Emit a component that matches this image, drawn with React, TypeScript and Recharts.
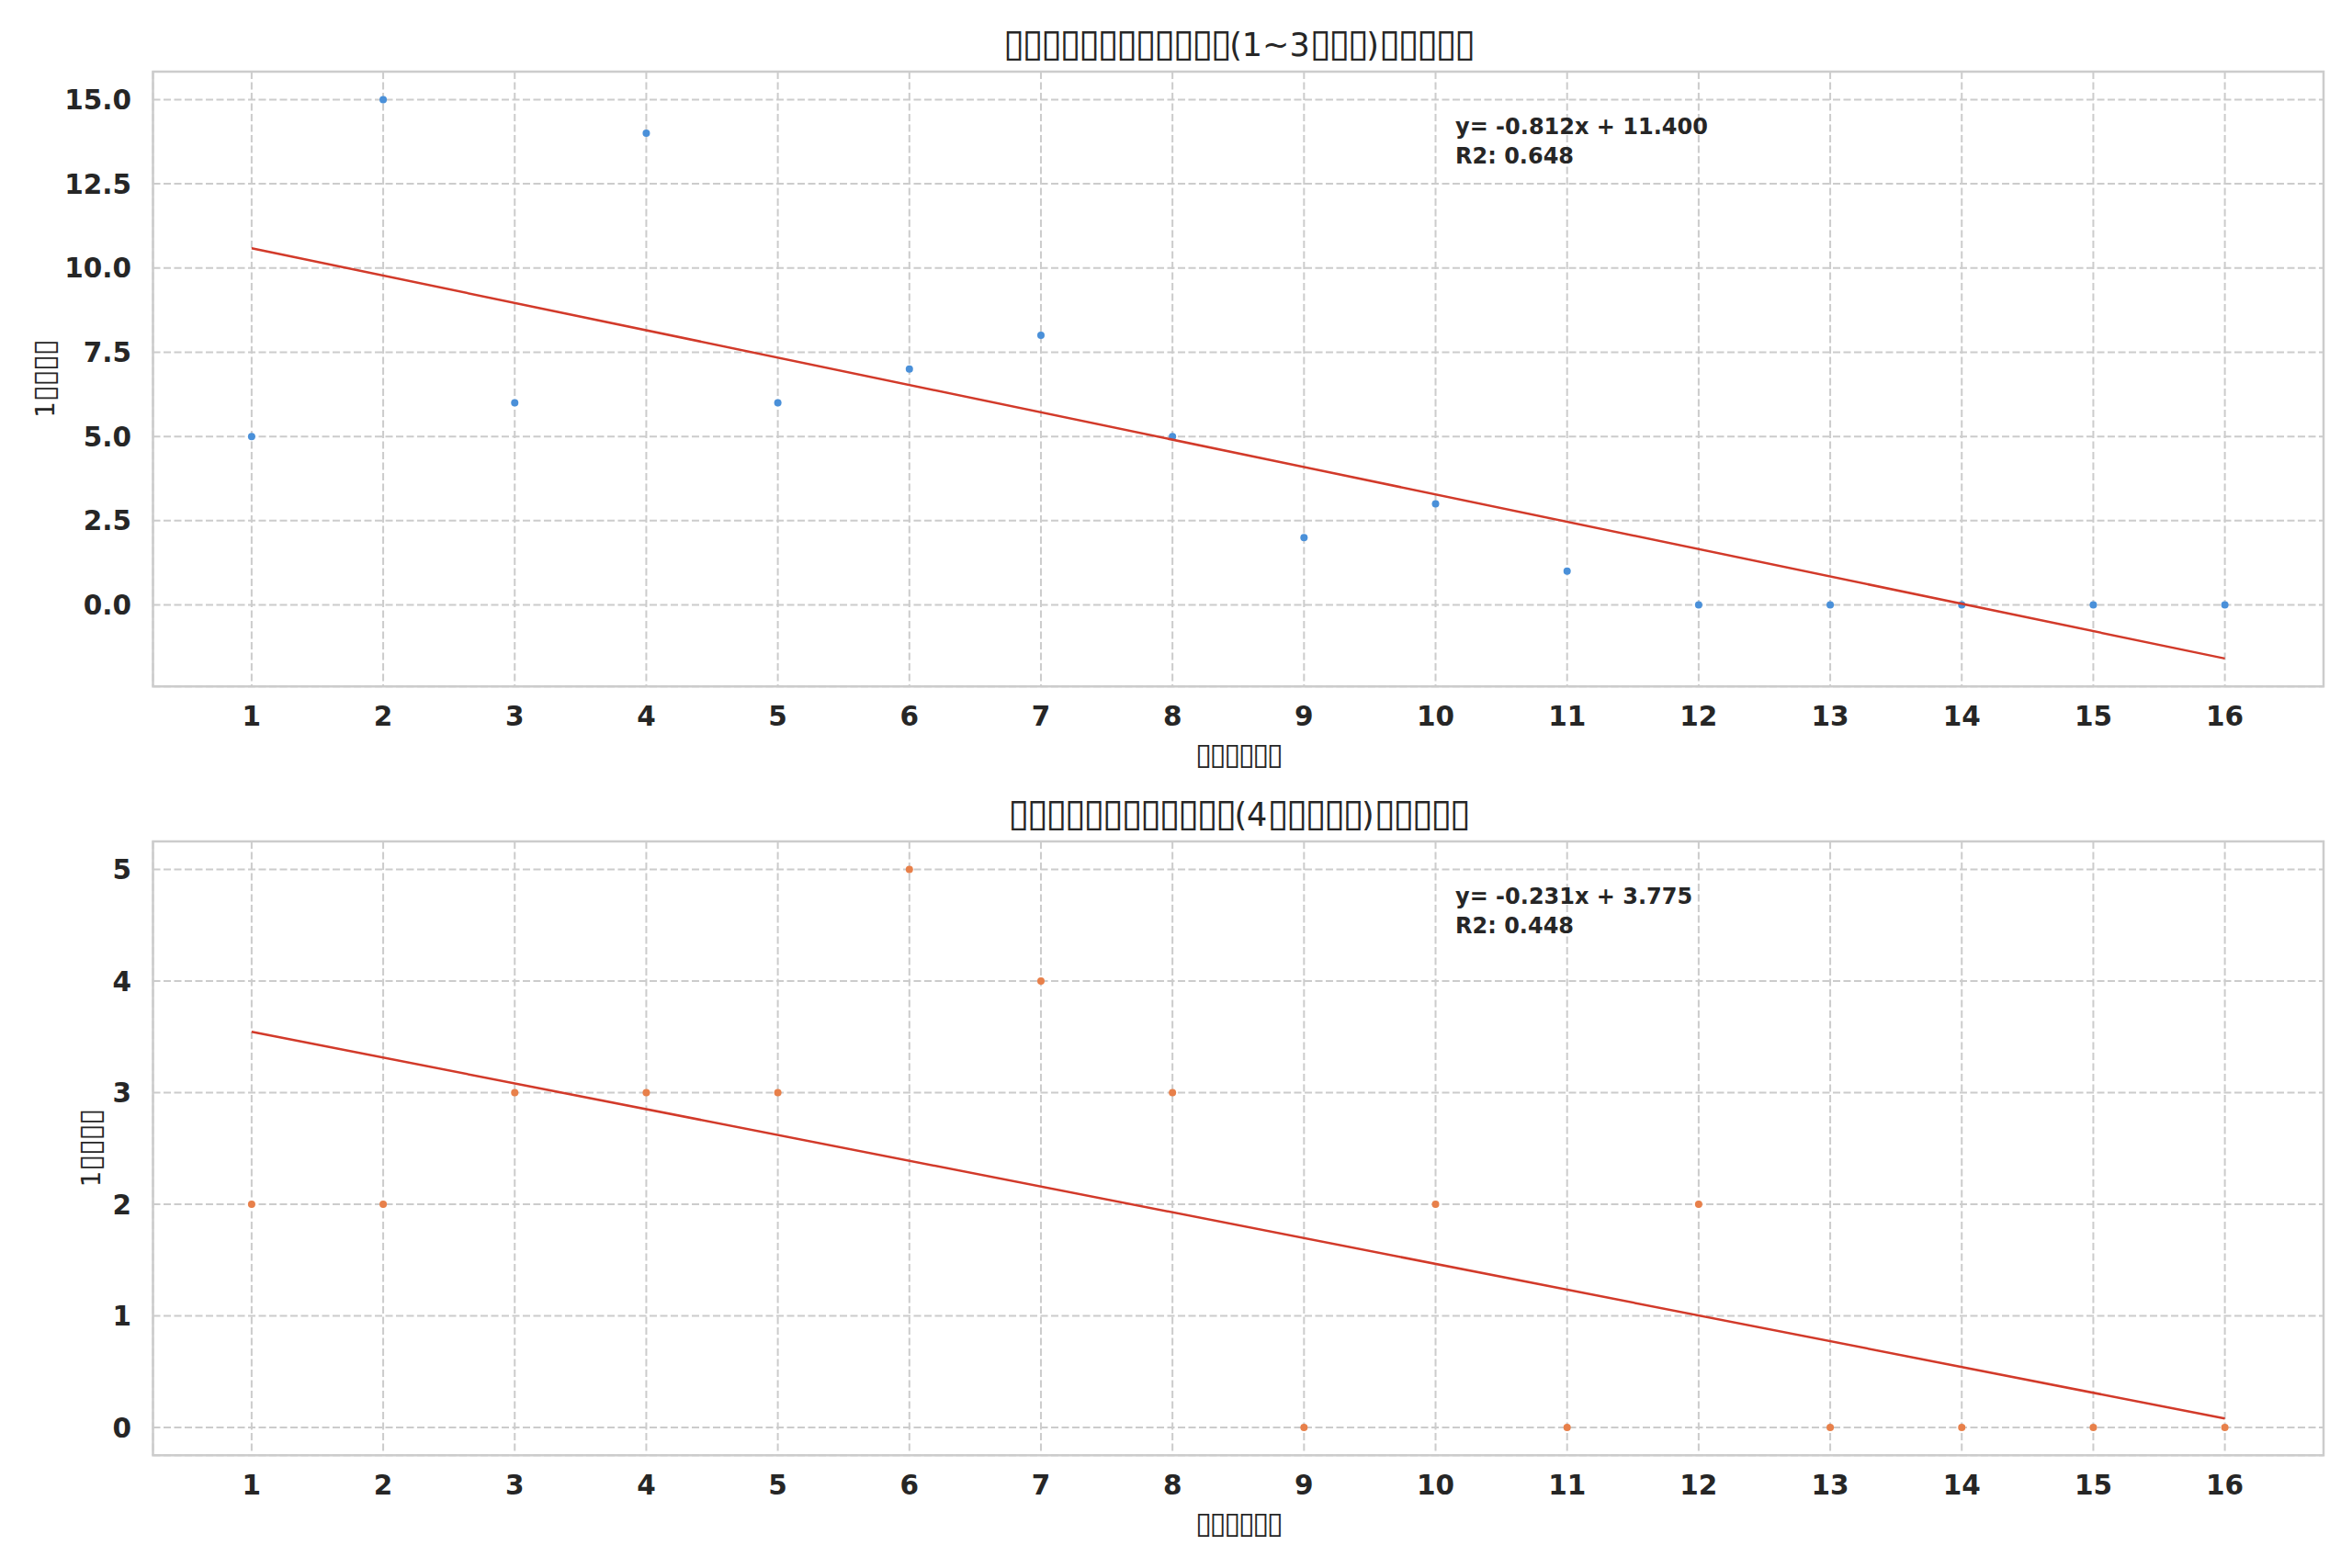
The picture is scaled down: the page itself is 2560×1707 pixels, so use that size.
import React from 'react';
import { ScatterChart, Scatter, XAxis, YAxis, CartesianGrid } from 'recharts';

// ---- data ----
const years = [1, 2, 3, 4, 5, 6, 7, 8, 9, 10, 11, 12, 13, 14, 15, 16];
const countsShort = [5, 15, 6, 14, 6, 7, 8, 5, 2, 3, 1, 0, 0, 0, 0, 0];
const countsLong = [2, 2, 3, 3, 3, 5, 4, 3, 0, 2, 0, 2, 0, 0, 0, 0];
const fitX = [1, 16];
const fitShortY = [10.588, -1.592];
const fitLongY = [3.544, 0.079];
const xTicks = [1, 2, 3, 4, 5, 6, 7, 8, 9, 10, 11, 12, 13, 14, 15, 16];
const yTicksShort = [0, 2.5, 5, 7.5, 10, 12.5, 15];
const yTicksLong = [0, 1, 2, 3, 4, 5];
const titleShort = '▯▯▯▯▯▯▯▯▯▯▯▯(1~3▯▯▯)▯▯▯▯▯';
const titleLong = '▯▯▯▯▯▯▯▯▯▯▯▯(4▯▯▯▯▯)▯▯▯▯▯';
const xLabelText = '▯▯▯▯▯▯';
const yLabelText = '1▯▯▯▯';
const annShort = ['y= -0.812x + 11.400', 'R2: 0.648'];
const annLong = ['y= -0.231x + 3.775', 'R2: 0.448'];

const toPoints = (xs: number[], ys: number[]) => xs.map((x, i) => ({ x, y: ys[i] }));

const FONT = 'DejaVu Sans';
const TXT = '#262626';
const GRID = '#cccccc';
const LEFT = 166.5;
const RIGHT = 2529;
const W = 2560;

// splits a string into runs of box glyphs and other characters
const runs = (s: string) => {
  const out: { box: boolean; t: string }[] = [];
  for (const ch of s) {
    const box = ch === '▯';
    const last = out[out.length - 1];
    if (last && last.box === box) last.t += ch;
    else out.push({ box, t: ch });
  }
  return out;
};

const BoxText = ({ s, fs, ls }: { s: string; fs: number; ls: number }) => (
  <>
    {runs(s).map((r, i) =>
      r.box ? (
        <tspan key={i} fontSize={fs * 1.2} letterSpacing={ls}>
          {r.t}
        </tspan>
      ) : (
        <tspan key={i} fontSize={fs}>
          {r.t}
        </tspan>
      )
    )}
  </>
);

type PanelProps = {
  top: number;
  height: number;
  plotTop: number;
  plotBottom: number;
  points: { x: number; y: number }[];
  fit: { x: number; y: number }[];
  color: string;
  yDomain: [number, number];
  yTicks: number[];
  yFmt: (v: number) => string;
  title: string;
  yLabelX: number;
  ann: string[];
};

const Panel = (p: PanelProps) => {
  const xAxisH = 40;
  const yAxisW = 120;
  const margin = {
    top: p.plotTop,
    bottom: p.height - p.plotBottom - xAxisH,
    left: LEFT - yAxisW,
    right: W - RIGHT,
  };
  const XTick = (t: any) => (
    <text x={t.x} y={t.y + 43} textAnchor="middle" fontFamily={FONT} fontWeight="bold" fontSize={29.5} fill={TXT}>
      {t.payload.value}
    </text>
  );
  const YTick = (t: any) => (
    <text x={t.x - 23.5} y={t.y} dy="0.36em" textAnchor="end" fontFamily={FONT} fontWeight="bold" fontSize={29.5} fill={TXT}>
      {p.yFmt(t.payload.value)}
    </text>
  );
  const midX = (LEFT + RIGHT) / 2;
  const midY = (p.plotTop + p.plotBottom) / 2;
  const annX = LEFT + 0.6 * (RIGHT - LEFT);
  return (
    <div style={{ position: 'absolute', left: 0, top: p.top, width: W, height: p.height }}>
      <ScatterChart width={W} height={p.height} margin={margin}>
        <CartesianGrid stroke={GRID} strokeWidth={2} strokeDasharray="8 3.5" />
        <XAxis
          type="number"
          dataKey="x"
          domain={[0.25, 16.75]}
          ticks={xTicks}
          height={xAxisH}
          axisLine={false}
          tickLine={false}
          tickSize={0}
          tickMargin={0}
          tick={XTick}
          allowDataOverflow
        />
        <YAxis
          type="number"
          dataKey="y"
          domain={p.yDomain}
          ticks={p.yTicks}
          width={yAxisW}
          axisLine={false}
          tickLine={false}
          tickSize={0}
          tickMargin={0}
          tick={YTick}
          allowDataOverflow
        />
        <Scatter
          data={p.points}
          isAnimationActive={false}
          shape={(s: any) => <circle cx={s.cx} cy={s.cy} r={4} fill={p.color} />}
        />
        <Scatter
          data={p.fit}
          isAnimationActive={false}
          line={{ stroke: '#d23a2a', strokeWidth: 2.5 }}
          lineType="joint"
          shape={() => <g />}
        />
      </ScatterChart>
      <svg
        width={W}
        height={p.height}
        style={{ position: 'absolute', left: 0, top: 0, pointerEvents: 'none' }}
      >
        <rect
          x={LEFT}
          y={p.plotTop}
          width={RIGHT - LEFT}
          height={p.plotBottom - p.plotTop}
          fill="none"
          stroke={GRID}
          strokeWidth={2.5}
        />
        <text x={midX} y={p.plotTop - 29} dy="0.35em" textAnchor="middle" fontFamily={FONT} fontSize={35} fill={TXT}>
          <BoxText s={p.title} fs={35} ls={-2.6} />
        </text>
        <text x={midX} y={p.plotBottom + 75} dy="0.35em" textAnchor="middle" fontFamily={FONT} fontSize={27.5} fill={TXT}>
          <BoxText s={xLabelText} fs={27.5} ls={-2.6} />
        </text>
        <text
          x={p.yLabelX}
          y={midY}
          dy="0.35em"
          textAnchor="middle"
          fontFamily={FONT}
          fontSize={27.5}
          fill={TXT}
          transform={`rotate(-90 ${p.yLabelX} ${midY})`}
        >
          <BoxText s={yLabelText} fs={27.5} ls={-1.5} />
        </text>
        <text x={annX} y={p.plotTop + 68} fontFamily={FONT} fontWeight="bold" fontSize={24} fill={TXT}>
          {p.ann[0]}
        </text>
        <text x={annX} y={p.plotTop + 99.5} fontFamily={FONT} fontWeight="bold" fontSize={24} fill={TXT}>
          {p.ann[1]}
        </text>
      </svg>
    </div>
  );
};

export default function App() {
  return (
    <div style={{ position: 'absolute', left: 0, top: 0, width: W, height: 1707, background: '#ffffff' }}>
      <Panel
        top={0}
        height={854}
        plotTop={78}
        plotBottom={747.3}
        points={toPoints(years, countsShort)}
        fit={toPoints(fitX, fitShortY)}
        color="#4a90d9"
        yDomain={[-2.4216, 15.8296]}
        yTicks={yTicksShort}
        yFmt={(v) => v.toFixed(1)}
        title={titleShort}
        yLabelX={49}
        ann={annShort}
      />
      <Panel
        top={854}
        height={853}
        plotTop={62}
        plotBottom={730.3}
        points={toPoints(years, countsLong)}
        fit={toPoints(fitX, fitLongY)}
        color="#e8804a"
        yDomain={[-0.25, 5.25]}
        yTicks={yTicksLong}
        yFmt={(v) => String(v)}
        title={titleLong}
        yLabelX={99}
        ann={annLong}
      />
    </div>
  );
}
